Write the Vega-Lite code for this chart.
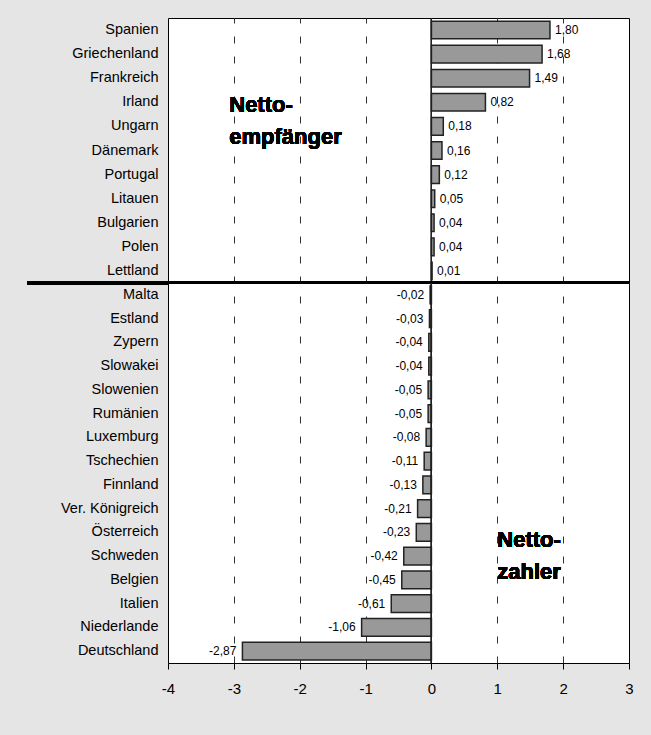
{
  "$schema": "https://vega.github.io/schema/vega-lite/v6.json",
  "autosize": {"type": "pad"},
  "padding": {"left": 25, "top": 17, "right": 22, "bottom": 40},
  "background": "#e5e5e5",
  "spacing": 0,
  "bounds": "flush",
  "datasets": {
    "empf": [
      {"land": "Spanien", "wert": 1.80},
      {"land": "Griechenland", "wert": 1.68},
      {"land": "Frankreich", "wert": 1.49},
      {"land": "Irland", "wert": 0.82},
      {"land": "Ungarn", "wert": 0.18},
      {"land": "Dänemark", "wert": 0.16},
      {"land": "Portugal", "wert": 0.12},
      {"land": "Litauen", "wert": 0.05},
      {"land": "Bulgarien", "wert": 0.04},
      {"land": "Polen", "wert": 0.04},
      {"land": "Lettland", "wert": 0.01}
    ],
    "zahler": [
      {"land": "Malta", "wert": -0.02},
      {"land": "Estland", "wert": -0.03},
      {"land": "Zypern", "wert": -0.04},
      {"land": "Slowakei", "wert": -0.04},
      {"land": "Slowenien", "wert": -0.05},
      {"land": "Rumänien", "wert": -0.05},
      {"land": "Luxemburg", "wert": -0.08},
      {"land": "Tschechien", "wert": -0.11},
      {"land": "Finnland", "wert": -0.13},
      {"land": "Ver. Königreich", "wert": -0.21},
      {"land": "Österreich", "wert": -0.23},
      {"land": "Schweden", "wert": -0.42},
      {"land": "Belgien", "wert": -0.45},
      {"land": "Italien", "wert": -0.61},
      {"land": "Niederlande", "wert": -1.06},
      {"land": "Deutschland", "wert": -2.87}
    ]
  },
  "config": {
    "locale": {"number": {"decimal": ",", "thousands": ".", "grouping": [3], "currency": ["", " €"], "minus": "-"}},
    "font": "Liberation Sans",
    "view": {"fill": "white", "stroke": "black", "strokeWidth": 1},
    "axis": {"title": null}
  },
  "vconcat": [
    {
      "width": 461,
      "height": 265,
      "data": {"name": "empf"},
      "layer": [
        {
          "mark": {"type": "bar", "fill": "#999999", "stroke": "#222222", "strokeWidth": 1.5},
          "encoding": {
            "y": {
              "field": "land", "type": "nominal", "sort": null,
              "scale": {"domain": ["Spanien", "Griechenland", "Frankreich", "Irland", "Ungarn", "Dänemark", "Portugal", "Litauen", "Bulgarien", "Polen", "Lettland"], "paddingInner": 0.27, "paddingOuter": 0.135},
              "axis": {"title": null, "ticks": false, "domain": false, "grid": false, "labelFontSize": 14.5, "labelColor": "black", "labelPadding": 10}
            },
            "x": {
              "field": "wert", "type": "quantitative",
              "scale": {"domain": [-4, 3], "nice": false, "zero": false},
              "axis": {"title": null, "values": [-3, -2, -1, 1, 2], "labels": false, "ticks": false, "domain": false, "grid": true, "gridColor": "#333333", "gridDash": [7, 13], "gridWidth": 1}
            }
          }
        },
        {
          "mark": {"type": "text", "align": "left", "baseline": "middle", "dx": 5, "fontSize": 12, "color": "black"},
          "encoding": {
            "y": {"field": "land", "type": "nominal", "sort": null},
            "x": {"field": "wert", "type": "quantitative"},
            "text": {"field": "wert", "type": "quantitative", "format": ".2f"}
          }
        },
        {
          "mark": {"type": "rule", "color": "#222222", "strokeWidth": 1},
          "encoding": {"x": {"datum": 0}}
        },
        {
          "mark": {"type": "rule", "color": "black", "strokeWidth": 3, "clip": false},
          "encoding": {"x": {"datum": -6.14}, "x2": {"datum": 3}, "y": {"value": "height"}}
        },
        {
          "mark": {"type": "text", "align": "left", "baseline": "alphabetic", "fontSize": 22, "fontWeight": "bold", "lineHeight": 31.5, "dy": 10, "color": "black"},
          "encoding": {
            "x": {"datum": -3.07},
            "y": {"datum": "Irland"},
            "text": {"value": ["Netto-", "empfänger"]}
          }
        }
      ]
    },
    {
      "width": 461,
      "height": 380,
      "data": {"name": "zahler"},
      "layer": [
        {
          "mark": {"type": "bar", "fill": "#999999", "stroke": "#222222", "strokeWidth": 1.5},
          "encoding": {
            "y": {
              "field": "land", "type": "nominal", "sort": null,
              "scale": {"domain": ["Malta", "Estland", "Zypern", "Slowakei", "Slowenien", "Rumänien", "Luxemburg", "Tschechien", "Finnland", "Ver. Königreich", "Österreich", "Schweden", "Belgien", "Italien", "Niederlande", "Deutschland"], "paddingInner": 0.25, "paddingOuter": 0.125},
              "axis": {"title": null, "ticks": false, "domain": false, "grid": false, "labelFontSize": 14.5, "labelColor": "black", "labelPadding": 10}
            },
            "x": {
              "field": "wert", "type": "quantitative",
              "scale": {"domain": [-4, 3], "nice": false, "zero": false},
              "axis": {
                "title": null, "values": [-4, -3, -2, -1, 0, 1, 2, 3], "format": "d",
                "labels": true, "labelFlush": false, "labelFontSize": 15, "labelColor": "black", "labelPadding": 12,
                "ticks": true, "tickSize": 6, "tickColor": "black", "tickWidth": 1,
                "domain": false, "grid": true, "gridColor": "#333333", "gridDash": [7, 13], "gridWidth": 1,
                "gridOpacity": {"condition": {"test": "datum.value == 0 || datum.value == -4 || datum.value == 3", "value": 0}, "value": 1}
              }
            }
          }
        },
        {
          "mark": {"type": "text", "align": "right", "baseline": "middle", "dx": -6, "fontSize": 12, "color": "black"},
          "encoding": {
            "y": {"field": "land", "type": "nominal", "sort": null},
            "x": {"field": "wert", "type": "quantitative"},
            "text": {"field": "wert", "type": "quantitative", "format": ".2f"}
          }
        },
        {
          "mark": {"type": "rule", "color": "#222222", "strokeWidth": 1},
          "encoding": {"x": {"datum": 0}}
        },
        {
          "mark": {"type": "text", "align": "left", "baseline": "alphabetic", "fontSize": 22, "fontWeight": "bold", "lineHeight": 31.5, "dy": 15, "color": "black"},
          "encoding": {
            "x": {"datum": 1},
            "y": {"datum": "Österreich"},
            "text": {"value": ["Netto-", "zahler"]}
          }
        }
      ]
    }
  ]
}
